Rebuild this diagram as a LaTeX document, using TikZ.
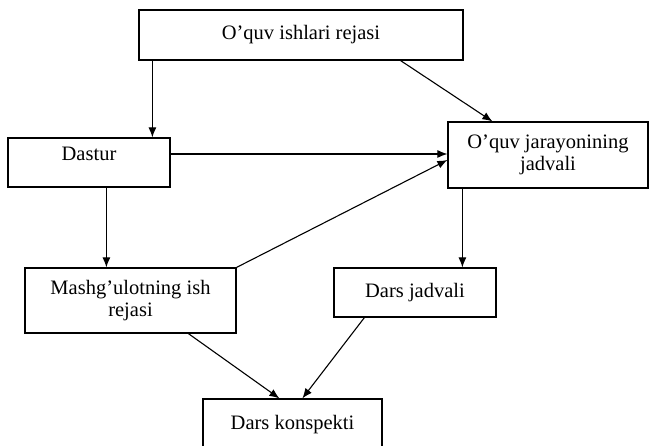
\documentclass[tikz,border=0pt]{standalone}
\usepackage{fontspec}
\setmainfont{Liberation Serif}
\usetikzlibrary{arrows.meta}
\begin{document}
\begin{tikzpicture}[x=1pt,y=1pt,
  box/.style={draw, line width=1.2pt, inner sep=0pt, align=center, font=\fontsize{20.5}{22}\selectfont},
  arr/.style={line width=1.1pt, -{Latex[length=10pt,width=8pt]}}]
\useasboundingbox (0,0) rectangle (650,445);
\clip (0,0) rectangle (650,445);
\node[box, minimum width=324pt, minimum height=50pt] (plan) at (301,410) {O’quv ishlari rejasi};
\node[box, minimum width=162pt, minimum height=49pt] (dastur) at (89,282.5) {\raisebox{1.5pt}[0pt][0pt]{Dastur}};
\node[box, minimum width=200pt, minimum height=66pt] (jadval) at (548,290) {O’quv jarayonining\\jadvali};
\node[box, minimum width=211pt, minimum height=65pt] (mash) at (130.5,144.5) {Mashg’ulotning ish\\rejasi};
\node[box, minimum width=162pt, minimum height=49pt] (darsj) at (415,152.5) {Dars jadvali};
\node[box, minimum width=179pt, minimum height=52pt] (konsp) at (292.5,20) {Dars konspekti};
\draw[arr] ([xshift=14pt]plan.south west) -- ([xshift=14pt]plan.south west |- dastur.north);
\draw[arr] ([xshift=-63pt]plan.south east) -- ([xshift=45pt]jadval.north west);
\draw[arr] ([yshift=8.5pt]dastur.east) -- ([yshift=8.5pt]dastur.east -| jadval.west);
\draw[arr] (mash.north east) -- ([yshift=-5pt]jadval.west);
\draw[arr] ([xshift=99pt]dastur.south west) -- ([xshift=99pt]dastur.south west |- mash.north);
\draw[arr] ([xshift=15pt]jadval.south west) -- ([xshift=15pt]jadval.south west |- darsj.north);
\draw[arr] ([xshift=164pt]mash.south west) -- ([xshift=77pt]konsp.north west);
\draw[arr] ([xshift=31pt]darsj.south west) -- ([xshift=100pt]konsp.north west);
\end{tikzpicture}
\end{document}
